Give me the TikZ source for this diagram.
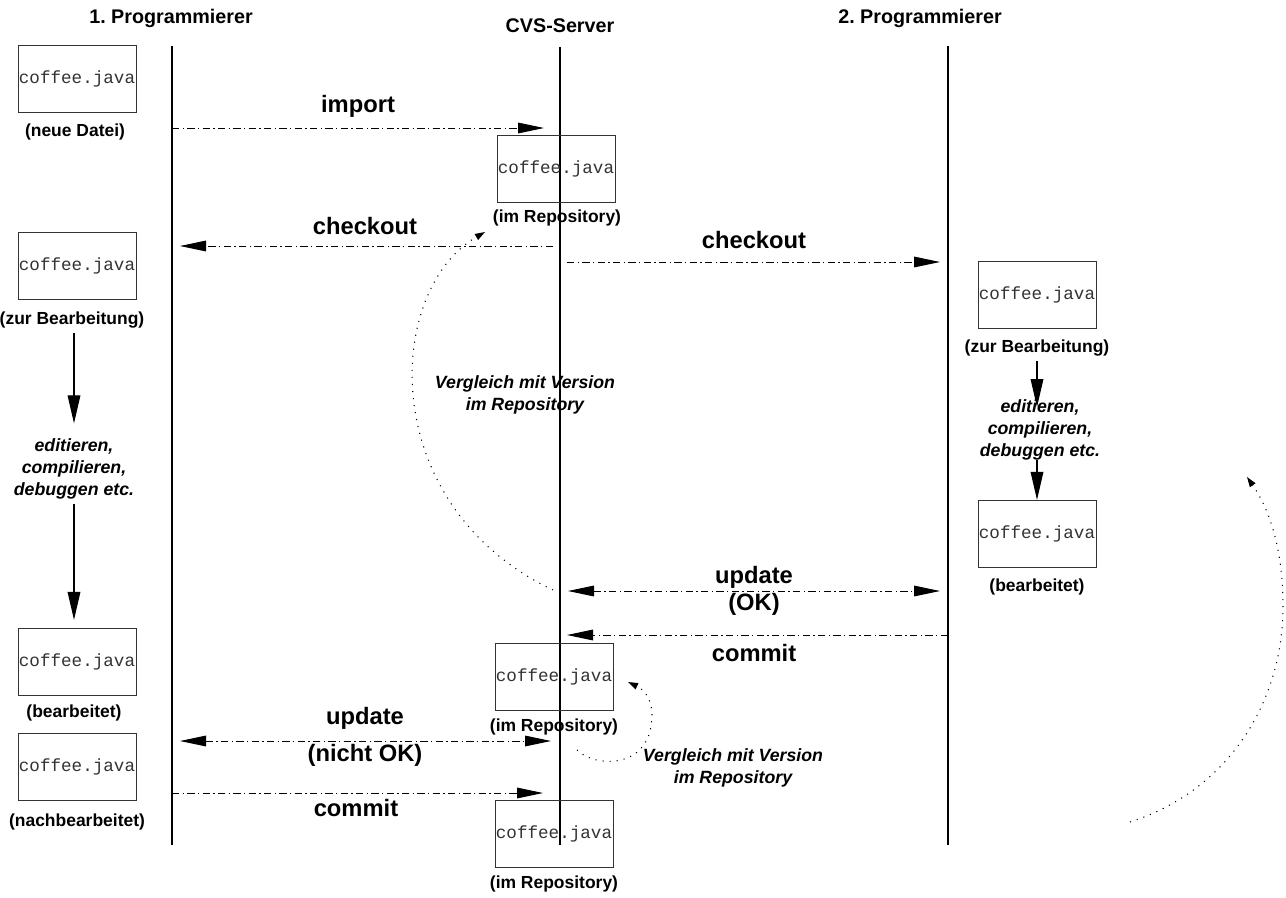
\documentclass[tikz,border=0pt]{standalone}
\usepackage{fontspec}
\setmainfont{Liberation Sans}
\setmonofont{Liberation Mono}
\usetikzlibrary{arrows.meta}
\begin{document}
\begin{tikzpicture}[x=0.75pt,y=-0.75pt,
  file/.style={draw=black!80, line width=0.7pt, minimum width=88.5pt, minimum height=50.5pt, inner sep=0pt,
    text=black!80, font=\ttfamily\fontsize{13.2}{15}\selectfont},
  head/.style={font=\bfseries\fontsize{14.8}{17}\selectfont},
  act/.style={font=\bfseries\fontsize{17.8}{20}\selectfont},
  lbl/.style={font=\bfseries\fontsize{13.1}{16}\selectfont},
  note/.style={font=\bfseries\itshape\fontsize{13.3}{16.5}\selectfont, align=center},
  life/.style={line width=1pt},
  msg/.style={line width=0.75pt, dash pattern=on 5.5pt off 2.5pt on 1pt off 2.5pt, -{Triangle[length=19.5pt,width=8pt]}},
  msgb/.style={line width=0.75pt, dash pattern=on 5.5pt off 2.5pt on 1pt off 2.5pt, {Triangle[length=19.5pt,width=8pt]}-{Triangle[length=19.5pt,width=8pt]}},
  flow/.style={line width=0.9pt, -{Triangle[length=21pt,width=9.5pt]}},
  cmp/.style={line width=0.8pt, dash pattern=on 0.8pt off 4.5pt, -{Triangle[length=7.5pt,width=5pt]}}
]
\useasboundingbox (0,0) rectangle (1286,897);

% headers
\node[head] (h1) at (171,18) {1.\ Programmierer};
\node[head] (h2) at (560,26) {CVS-Server};
\node[head] (h3) at (920,18) {2.\ Programmierer};

% lifelines
\coordinate (l1t) at (172,46); \coordinate (l1b) at (172,845);
\coordinate (l2t) at (560,47); \coordinate (l2b) at (560,845);
\coordinate (l3t) at (948,46); \coordinate (l3b) at (948,845);
\draw[life] (l1t) -- (l1b);
\draw[life] (l2t) -- (l2b);
\draw[life] (l3t) -- (l3b);

% files programmer 1
\node[file] (A1) at (77,79) {coffee.java};
\node[lbl] (lA1) at (75,132) {(neue Datei)};
\node[file] (A2) at (77,266) {coffee.java};
\node[lbl] (lA2) at (72,320) {(zur Bearbeitung)};
\node[note] (ed1) at (74,469) {editieren,\\compilieren,\\debuggen etc.};
\node[file] (A3) at (77,662) {coffee.java};
\node[lbl] (lA3) at (74,713) {(bearbeitet)};
\node[file] (A4) at (77,767) {coffee.java};
\node[lbl] (lA4) at (77,822) {(nachbearbeitet)};

\draw[flow, shorten >=8pt] (lA2.south -| ed1.north) -- (ed1.north);
\draw[flow, shorten >=6pt] (ed1.south) -- (ed1.south |- A3.north);

% files server
\node[file] (S1) at (556,169) {coffee.java};
\node[lbl] (lS1) at (557,218) {(im Repository)};
\node[file] (S2) at (554,677) {coffee.java};
\node[lbl] (lS2) at (554,727) {(im Repository)};
\node[file] (S3) at (554,834) {coffee.java};
\node[lbl] (lS3) at (554,884) {(im Repository)};

% files programmer 2
\node[file] (B1) at (1037,295) {coffee.java};
\node[lbl] (lB1) at (1037,348) {(zur Bearbeitung)};
\node[note] (ed2) at (1040,430) {editieren,\\compilieren,\\debuggen etc.};
\node[file] (B2) at (1037,534) {coffee.java};
\node[lbl] (lB2) at (1037,587) {(bearbeitet)};

\draw[flow, shorten >=-9pt] (lB1.south) -- (lB1.south |- ed2.north);
\draw[flow, shorten <=-4pt] (lB1.south |- ed2.south) -- (B2.north);

% messages
\coordinate (imA) at (172,128); \coordinate (imB) at (544,128);
\draw[msg] (imA) -- (imB);
\node[act] (timp) at (358,106) {import};

\coordinate (co1A) at (553,246); \coordinate (co1B) at (180,246);
\draw[msg] (co1A) -- (co1B);
\node[act] (tco1) at (365,226) {checkout};

\coordinate (co2A) at (567,262); \coordinate (co2B) at (940,262);
\draw[msg] (co2A) -- (co2B);
\node[act] (tco2) at (754,240) {checkout};

\coordinate (upA) at (568,591); \coordinate (upB) at (940,591);
\draw[msgb] (upA) -- (upB);
\node[act] (tup1) at (754,577) {update};
\node[act] (tup2) at (754,604) {(OK)};

\coordinate (cm2A) at (948,635); \coordinate (cm2B) at (567,635);
\draw[msg] (cm2A) -- (cm2B);
\node[act] (tcm2) at (754,653) {commit};

\coordinate (unA) at (180,741); \coordinate (unB) at (551,741);
\draw[msgb] (unA) -- (unB);
\node[act] (tun1) at (365,718) {update};
\node[act] (tun2) at (365,755) {(nicht OK)};

\coordinate (cm1A) at (172,793); \coordinate (cm1B) at (543,793);
\draw[msg] (cm1A) -- (cm1B);
\node[act] (tcm1) at (356,808) {commit};

% comparisons
\node[note] (v1) at (525,395) {Vergleich mit Version\\im Repository};
\node[note] (v2) at (733,768) {Vergleich mit Version\\im Repository};

\coordinate (c1a) at (553,590); \coordinate (c1b) at (485,232);
\draw[cmp] (c1a) .. controls (375,505) and (385,290) .. (c1b);

\coordinate (c2a) at (577,750); \coordinate (c2m) at (652,715); \coordinate (c2b) at (628,682);
\draw[cmp] (c2a) .. controls (595,768) and (652,770) .. (c2m) .. controls (652,700) and (645,690) .. (c2b);

\coordinate (c3a) at (1130,822); \coordinate (c3m) at (1283,607); \coordinate (c3b) at (1247,477);
\draw[cmp] (c3a) .. controls (1230,790) and (1283,700) .. (c3m) .. controls (1283,550) and (1270,510) .. (c3b);
\end{tikzpicture}
\end{document}
